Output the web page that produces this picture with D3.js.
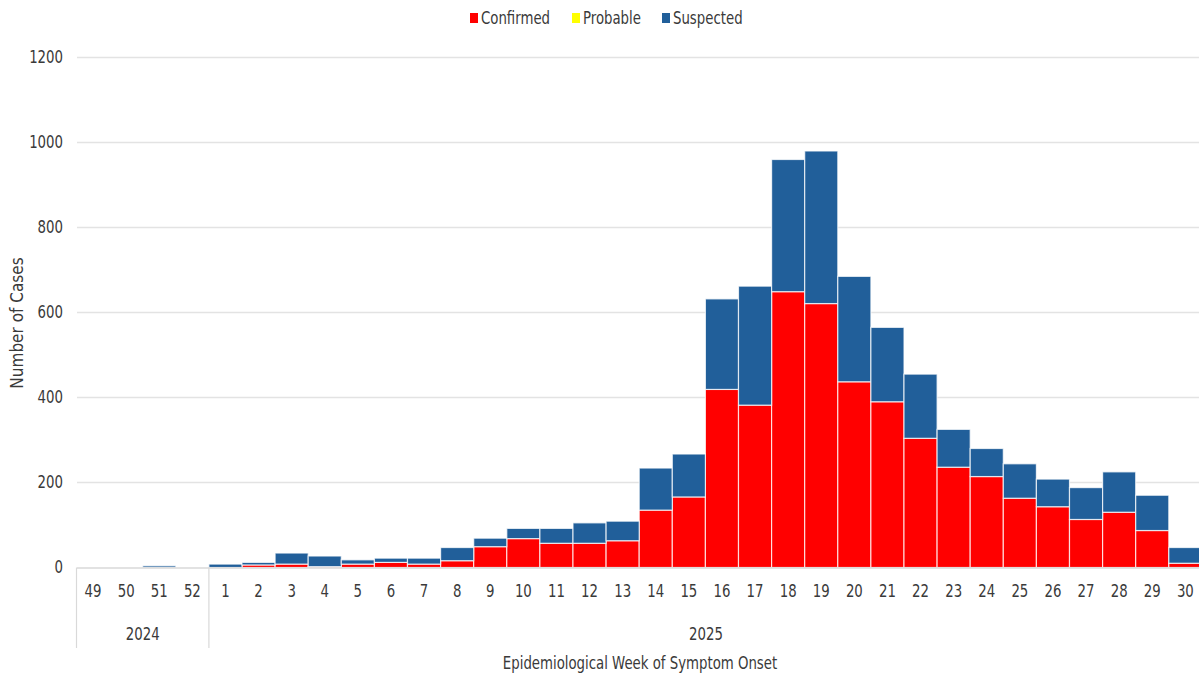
<!DOCTYPE html>
<html>
<head>
<meta charset="utf-8">
<script src="https://cdn.jsdelivr.net/npm/d3@7"></script>
<style>
  html, body { margin: 0; padding: 0; background: #fff; }
  svg { display: block; }
  text { font-family: "DejaVu Sans Condensed", "Liberation Sans Narrow", sans-serif; fill: #3a3a3a; }
</style>
</head>
<body>
<svg id="chart" width="1199" height="677"></svg>
<script>
// ---- data ----
const weeks = ["49","50","51","52","1","2","3","4","5","6","7","8","9","10","11","12","13","14","15","16","17","18","19","20","21","22","23","24","25","26","27","28","29","30"];
const years = ["2024","2024","2024","2024","2025","2025","2025","2025","2025","2025","2025","2025","2025","2025","2025","2025","2025","2025","2025","2025","2025","2025","2025","2025","2025","2025","2025","2025","2025","2025","2025","2025","2025","2025"];
const confirmed = [0,0,0,0,0,6,8,2,8,12,8,16,49,68,57,57,63,135,166,419,382,649,621,437,390,304,236,214,163,143,113,130,87,10];
const probable  = [0,0,0,0,0,0,0,0,0,0,0,0,0,0,0,0,0,0,0,0,0,0,0,0,0,0,0,0,0,0,0,0,0,0];
const suspected = [0,0,4,0,8,6,26,25,10,10,14,31,20,24,35,48,46,99,101,213,280,311,359,248,175,151,89,66,81,65,75,95,83,37];
const yTicks = [0,200,400,600,800,1000,1200];
const seriesNames = ["Confirmed","Probable","Suspected"];
const seriesColors = ["#FF0000","#FFFF00","#215F9A"];

// ---- layout ----
const SX = 0.87; // horizontal text compression
const FS = 17;
const svg = d3.select("#chart");
const keys = weeks.map((w,i) => years[i] + "-" + w);
const rows = keys.map((k,i) => ({key:k, Confirmed:confirmed[i], Probable:probable[i], Suspected:suspected[i]}));

const x = d3.scaleBand().domain(keys).range([76.5, 76.5 + 34*33.1]).padding(0);
const y = d3.scaleLinear().domain([0,1200]).range([567.5, 57.5]);

function place(sel, fx, fy, rot) {
  sel.attr("transform", (d,i) => `translate(${fx(d,i)},${fy(d,i)})${rot ? " rotate(" + rot + ")" : ""} scale(${SX},1)`)
     .attr("dy", "0.35em").attr("font-size", FS);
  return sel;
}

// gridlines
svg.append("g").selectAll("line").data(yTicks.filter(t => t > 0)).join("line")
  .attr("x1", 77).attr("x2", 1199)
  .attr("y1", d => y(d)).attr("y2", d => y(d))
  .attr("stroke", "#e3e3e3").attr("stroke-width", 1.5);

// y labels
place(svg.append("g").selectAll("text").data(yTicks).join("text"), () => 63, d => y(d))
  .attr("text-anchor", "end").text(d => d);

// bars
const stack = d3.stack().keys(seriesNames)(rows);
svg.append("g").selectAll("g").data(stack).join("g")
  .attr("fill", (d,i) => seriesColors[i])
  .selectAll("rect").data(d => d.filter(p => p[1] - p[0] > 0)).join("rect")
  .attr("x", d => x(d.data.key))
  .attr("width", x.bandwidth())
  .attr("y", d => y(d[1]))
  .attr("height", d => y(d[0]) - y(d[1]))
  .attr("stroke", "#ffffff").attr("stroke-opacity", 0.75).attr("stroke-width", 1.2);

// category axis frame
const axisG = svg.append("g");
axisG.append("line").attr("x1", 77).attr("x2", 1199).attr("y1", y(0)+0.5).attr("y2", y(0)+0.5)
  .attr("stroke", "#d9d9d9").attr("stroke-width", 1.5);
const yearGroups = d3.groups(keys.map((k,i)=>({k, yr: years[i]})), d => d.yr);
const sepX = [x(keys[0])];
yearGroups.forEach(([yr, items]) => {
  const last = items[items.length-1].k;
  sepX.push(x(last) + x.bandwidth());
});
axisG.selectAll("line.sep").data(sepX.slice(0, 2)).join("line").attr("class","sep")
  .attr("x1", d => d).attr("x2", d => d).attr("y1", y(0)).attr("y2", 648)
  .attr("stroke", "#d9d9d9").attr("stroke-width", 1.2);

// week labels
place(axisG.selectAll("text.wk").data(keys).join("text").attr("class","wk"),
  d => x(d) + x.bandwidth()/2, () => 591)
  .attr("text-anchor","middle").text((d,i) => weeks[i]);

// year labels
place(axisG.selectAll("text.yr").data(yearGroups).join("text").attr("class","yr"),
  ([yr, items]) => {
    const a = x(items[0].k), b = x(items[items.length-1].k) + x.bandwidth();
    return yr === "2025" ? 706 : (a+b)/2;
  }, () => 634)
  .attr("text-anchor","middle").text(([yr]) => yr);

// axis titles
place(svg.append("text").datum(0), () => 640, () => 663)
  .attr("text-anchor","middle").text("Epidemiological Week of Symptom Onset");
svg.append("text").attr("transform", `translate(17,323) rotate(-90)`).attr("dy","0.35em")
  .attr("text-anchor","middle").attr("font-size", FS).text("Number of Cases");

// legend
const legendX = [470, 572, 662];
const lg = svg.append("g").selectAll("g").data(seriesNames).join("g")
  .attr("transform", (d,i) => `translate(${legendX[i]},18)`);
lg.append("rect").attr("x", 0).attr("y", -5).attr("width", 8).attr("height", 10)
  .attr("fill", (d,i) => seriesColors[i]);
lg.append("text").attr("transform", `translate(11,0) scale(${SX},1)`).attr("dy","0.35em").attr("font-size", FS)
  .text(d => d);
</script>
</body>
</html>
